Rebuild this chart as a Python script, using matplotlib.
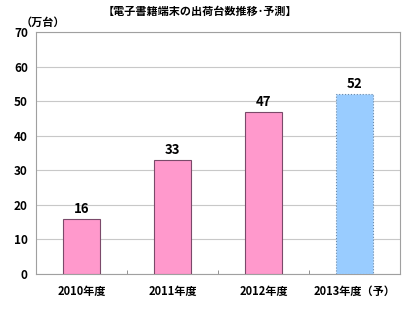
import matplotlib
matplotlib.use("Agg")
import matplotlib.pyplot as plt

plt.rcParams['font.family'] = ['Noto Sans CJK JP', 'DejaVu Sans']

# データ
years = ['2010年度', '2011年度', '2012年度', '2013年度（予）']
values = [16, 33, 47, 52]
colors = ['#FF99CC', '#FF99CC', '#FF99CC', '#99CCFF']
edges = ['#7A4A6A', '#7A4A6A', '#7A4A6A', '#6A8AAA']
styles = ['solid', 'solid', 'solid', 'dotted']
yticks = [0, 10, 20, 30, 40, 50, 60, 70]

fig = plt.figure(figsize=(4.15, 3.11), dpi=100)
ax = fig.add_axes([0.087, 0.119, 0.877, 0.778])

x = list(range(len(years)))
for i in x:
	ax.bar(i, values[i], width=0.4, color=colors[i], edgecolor=edges[i],
		linewidth=0.8, linestyle=styles[i], zorder=3)
	ax.text(i, values[i] + 0.8, str(values[i]), ha='center', va='bottom',
		fontsize=9.5, fontweight='bold', zorder=4)

ax.set_xlim(-0.5, len(years) - 0.5)
ax.set_ylim(0, 70)
ax.set_yticks(yticks)
ax.set_yticklabels([str(t) for t in yticks], fontsize=8.5, fontweight='bold')
ax.yaxis.grid(True, color='#C8C8C8', linewidth=0.8, zorder=0)
ax.tick_params(axis='y', length=0, pad=6)

ax.set_xticks(x)
ax.set_xticklabels(years, fontsize=8, fontweight='bold')
ax.set_xticks([0.5, 1.5, 2.5], minor=True)
ax.tick_params(axis='x', which='major', length=0, pad=8)
ax.tick_params(axis='x', which='minor', direction='in', length=3, color='#808080')

for s in ax.spines.values():
	s.set_color('#A0A0A0')
	s.set_linewidth(0.8)

fig.text(0.483, 0.962, '【電子書籍端末の出荷台数推移･予測】', ha='center', va='center',
	fontsize=8, fontweight='bold')
fig.text(0.05, 0.928, '（万台）', ha='left', va='center', fontsize=8, fontweight='bold')

fig.savefig('out.png', dpi=100)
